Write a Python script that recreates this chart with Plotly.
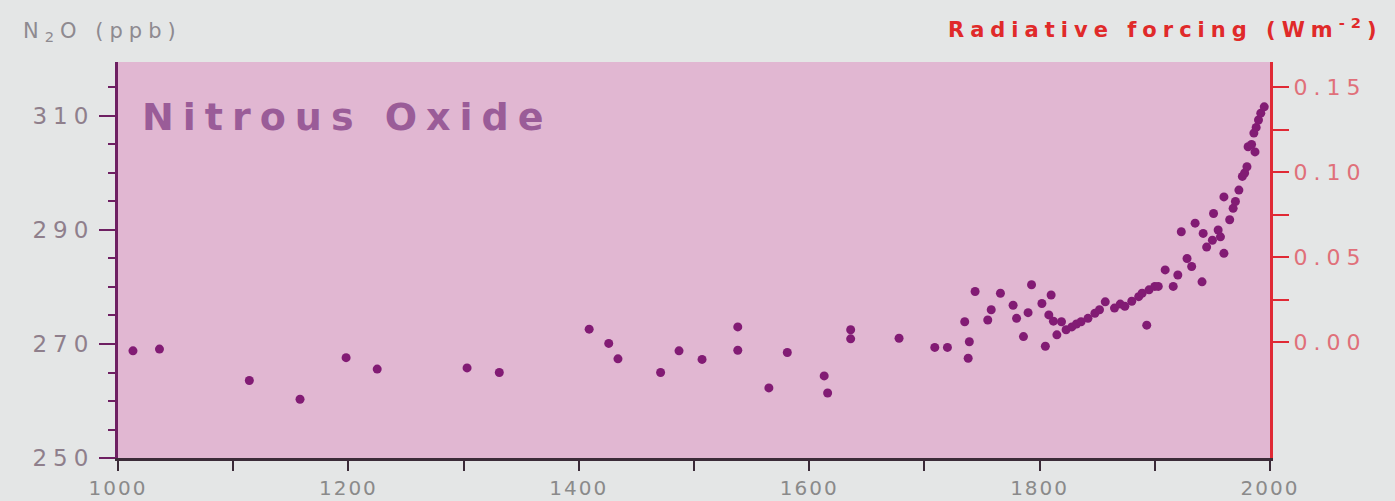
import plotly.graph_objects as go

# N2O concentration (ppb) by year
years = [1013, 1036, 1114, 1158, 1198, 1225, 1303, 1331, 1409, 1426, 1434, 1471,
         1487, 1507, 1538, 1538, 1565, 1581, 1613, 1616, 1636, 1636, 1678, 1709,
         1720, 1735, 1739, 1738, 1744, 1755, 1758, 1766, 1777, 1780, 1786, 1790,
         1793, 1802, 1805, 1808, 1810, 1812, 1815, 1819, 1823, 1828, 1832, 1836,
         1842, 1848, 1852, 1857, 1865, 1870, 1874, 1880, 1886, 1889, 1893, 1895,
         1900, 1903, 1909, 1916, 1920, 1923, 1928, 1932, 1935, 1941, 1942, 1945,
         1950, 1951, 1955, 1957, 1960, 1960, 1965, 1968, 1970, 1973, 1976, 1978,
         1980, 1981, 1984, 1986, 1987, 1988, 1990, 1992, 1995]
n2o = [268.8, 269.1, 263.6, 260.3, 267.6, 265.6, 265.8, 265.0, 272.6, 270.1, 267.4, 265.0,
       268.8, 267.3, 273.0, 268.9, 262.3, 268.5, 264.4, 261.4, 272.5, 270.9, 271.0, 269.4,
       269.4, 273.9, 270.4, 267.5, 279.2, 274.2, 276.0, 278.9, 276.8, 274.5, 271.3, 275.5,
       280.4, 277.1, 269.6, 275.1, 278.6, 274.0, 271.6, 273.9, 272.5, 273.0, 273.5, 273.9,
       274.5, 275.4, 276.0, 277.4, 276.3, 277.0, 276.6, 277.5, 278.3, 278.9, 273.3, 279.5,
       280.1, 280.1, 283.0, 280.1, 282.1, 289.7, 285.0, 283.6, 291.2, 280.9, 289.4, 287.0,
       288.2, 292.9, 290.0, 288.8, 285.9, 295.8, 291.8, 293.8, 295.0, 297.0, 299.4, 300.0,
       301.1, 304.6, 305.0, 307.0, 303.7, 308.0, 309.3, 310.5, 311.6]

x_tickvals = [1000, 1100, 1200, 1300, 1400, 1500, 1600, 1700, 1800, 1900, 2000]
x_labels = ["1000", "", "1200", "", "1400", "", "1600", "", "1800", "", "2000"]
y_tickvals = [250, 270, 290, 310]
y_labels = ["250", "270", "290", "310"]
rf_tickvals = [0.0, 0.025, 0.05, 0.075, 0.10, 0.125, 0.15]
rf_labels = ["0.00", "", "0.05", "", "0.10", "", "0.15"]


def spaced(t, px):
    return f'<span style="letter-spacing:{px}px">{t}</span>' if t else ""


FONT = "DejaVu Sans, Verdana, sans-serif"

fig = go.Figure()
fig.add_trace(go.Scatter(
    x=years, y=n2o, mode="markers",
    marker=dict(size=9, color="#821b74", line=dict(width=0)),
    showlegend=False, hoverinfo="x+y"))
# invisible trace to activate the right axis
fig.add_trace(go.Scatter(x=[1000], y=[0], yaxis="y2", mode="markers",
                         marker=dict(opacity=0), showlegend=False, hoverinfo="skip"))

fig.update_layout(
    width=1395, height=501,
    margin=dict(l=118, r=125, t=62, b=43, autoexpand=False),
    paper_bgcolor="#e4e6e6",
    plot_bgcolor="#e1b7d2",
    font=dict(family=FONT),
    xaxis=dict(range=[1000, 2000], tickvals=x_tickvals, automargin=False,
               ticktext=[spaced(t, 2) for t in x_labels],
               showgrid=False, zeroline=False, showline=True, linecolor="#3b2b38",
               linewidth=3, ticks="outside", ticklen=10, tickwidth=2, tickcolor="#3b2b38",
               tickfont=dict(size=20, color="#8a8a8a")),
    yaxis=dict(range=[250, 319.47], tickvals=y_tickvals, automargin=False,
               ticktext=[spaced(t, 6) for t in y_labels],
               showgrid=False, zeroline=False,
               showline=True, linecolor="#6e2062", linewidth=3, ticks="outside",
               ticklen=16, tickwidth=2, tickcolor="#6e2062",
               minor=dict(dtick=5, ticks="outside", ticklen=7, tickcolor="#6e2062", tickwidth=2),
               tickfont=dict(size=23, color="#8f7f8c")),
    yaxis2=dict(range=[-0.0682, 0.1647], overlaying="y", side="right", automargin=False,
                tickvals=rf_tickvals, ticktext=[spaced(t, 6) for t in rf_labels],
                showgrid=False, zeroline=False, showline=True, linecolor="#e02a35",
                linewidth=3, ticks="outside", ticklen=16, tickwidth=2, tickcolor="#e02a35",
                tickfont=dict(size=22, color="#e0707a")),
    annotations=[
        dict(text='<b><span style="letter-spacing:9px">Nitrous Oxide</span></b>',
             xref="paper", yref="paper", x=0.019, y=0.86,
             xanchor="left", yanchor="middle", showarrow=False,
             font=dict(size=38, color="#9a5c98", family=FONT)),
        dict(text='<span style="letter-spacing:6px">N<sub>2</sub>O (ppb)</span>',
             xref="paper", yref="paper", x=-0.084, y=1.075,
             xanchor="left", yanchor="middle", showarrow=False,
             font=dict(size=21, color="#8e8a90", family=FONT)),
        dict(text='<b><span style="letter-spacing:6px">Radiative forcing (Wm<sup>-2</sup>)</span></b>',
             xref="paper", yref="paper",
             x=1.1, y=1.085, xanchor="right", yanchor="middle", showarrow=False,
             font=dict(size=21, color="#e02a2a", family=FONT)),
    ],
)

fig.write_html("out.html", config={"displayModeBar": False},
               post_script="document.body.style.margin='0';document.body.style.background='#e4e6e6';")
